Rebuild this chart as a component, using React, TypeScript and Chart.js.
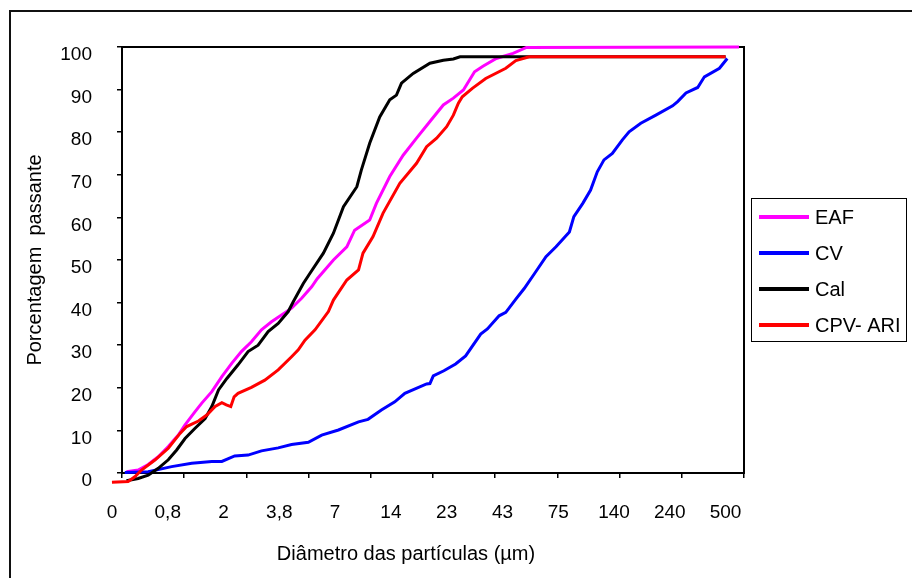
import React, { useEffect, useRef } from 'react';
import { Chart, registerables } from 'chart.js';

Chart.register(...registerables);

const FONT = '"Liberation Sans", Arial, Helvetica, sans-serif';

const xLabels = ['0', '0,8', '2', '3,8', '7', '14', '23', '43', '75', '140', '240', '500'];
const yTitle = 'Porcentagem  passante';
const xTitle = 'Diâmetro das partículas (µm)';
const seriesNames = ['EAF', 'CV', 'Cal', 'CPV- ARI'];
const seriesColors = ['#FF00FF', '#0000FF', '#000000', '#FF0000'];

// x values are positions along the category label index (0 = "0", 11 = "500")
const eafX = [0.26, 0.47, 0.65, 0.83, 1.01, 1.19, 1.31, 1.49, 1.61, 1.79, 1.97, 2.15, 2.32, 2.5, 2.68, 2.86, 3.04, 3.22, 3.4, 3.58, 3.68, 3.97, 4.21, 4.35, 4.62, 4.74, 4.98, 5.22, 5.46, 5.7, 5.94, 6.12, 6.3, 6.5, 6.65, 6.89, 7.19, 7.43, 11.24];
const eafY = [0.3, 0.7, 2.0, 3.8, 6.2, 8.9, 11.3, 14.4, 16.4, 19.1, 22.6, 25.8, 28.5, 30.8, 33.6, 35.5, 37.1, 38.7, 41.0, 43.7, 45.6, 50.0, 53.1, 57.0, 59.4, 63.3, 69.6, 74.6, 78.6, 82.5, 86.4, 88.0, 89.9, 94.2, 95.5, 97.3, 98.5, 99.9, 100];

const cvX = [0.23, 0.65, 1.07, 1.43, 1.79, 1.97, 2.2, 2.44, 2.68, 2.98, 3.22, 3.52, 3.76, 4.06, 4.42, 4.59, 4.83, 5.07, 5.25, 5.64, 5.7, 5.76, 5.95, 6.16, 6.34, 6.61, 6.73, 6.94, 7.06, 7.24, 7.39, 7.6, 7.78, 7.96, 8.2, 8.28, 8.44, 8.58, 8.7, 8.82, 8.97, 9.15, 9.27, 9.48, 9.75, 10.05, 10.14, 10.29, 10.5, 10.62, 10.89, 11.03];
const cvY = [0.1, 0.3, 1.5, 2.3, 2.7, 2.7, 4.0, 4.2, 5.2, 5.9, 6.7, 7.2, 8.9, 10.1, 12.0, 12.6, 14.8, 16.7, 18.7, 20.9, 21.0, 22.8, 24.0, 25.6, 27.5, 32.6, 33.8, 36.9, 37.7, 40.8, 43.3, 47.3, 50.8, 53.1, 56.6, 60.2, 63.3, 66.4, 70.7, 73.5, 75.0, 78.2, 80.1, 82.1, 84.0, 86.2, 87.2, 89.2, 90.5, 93.0, 95.0, 97.3];

const calX = [0.26, 0.47, 0.65, 0.83, 1.01, 1.16, 1.31, 1.49, 1.67, 1.79, 1.91, 2.06, 2.26, 2.44, 2.62, 2.8, 2.98, 3.16, 3.25, 3.43, 3.55, 3.79, 3.97, 4.15, 4.39, 4.47, 4.62, 4.8, 4.98, 5.1, 5.19, 5.4, 5.7, 5.94, 6.12, 6.24, 11.0];
const calY = [-1.8, -1.3, -0.5, 1.1, 3.1, 5.4, 8.1, 10.5, 12.8, 15.6, 19.5, 22.2, 25.4, 28.5, 30.0, 33.2, 35.1, 37.9, 40.2, 44.5, 46.9, 51.6, 56.3, 62.5, 67.2, 71.1, 77.4, 83.6, 87.6, 88.7, 91.5, 93.8, 96.2, 96.9, 97.2, 97.7, 97.7];

const cpvX = [0, 0.29, 0.41, 0.53, 0.77, 1.01, 1.22, 1.34, 1.55, 1.7, 1.85, 1.97, 2.05, 2.13, 2.19, 2.26, 2.5, 2.74, 2.98, 3.22, 3.34, 3.46, 3.64, 3.88, 3.97, 4.21, 4.42, 4.5, 4.68, 4.86, 5.16, 5.46, 5.64, 5.82, 6.0, 6.12, 6.21, 6.28, 6.46, 6.7, 7.06, 7.24, 7.48, 11.0];
const cpvY = [-2.2, -2.0, -0.9, 0.7, 3.05, 5.8, 9.3, 10.9, 12.2, 13.6, 15.6, 16.5, 16.0, 15.6, 17.9, 18.7, 20.1, 21.8, 24.2, 27.3, 28.9, 31.2, 33.6, 37.9, 40.6, 45.3, 47.7, 51.6, 55.5, 61.0, 68.0, 72.7, 76.6, 78.6, 81.3, 84.0, 86.8, 88.3, 90.3, 92.6, 95.0, 96.8, 97.7, 97.7];

const seriesX = [eafX, cvX, calX, cpvX];
const seriesY = [eafY, cvY, calY, cpvY];

const framePlugin = {
  id: 'frameDecor',
  beforeDatasetsDraw(chart: any) {
    const { ctx, chartArea: a } = chart;
    ctx.save();
    ctx.strokeStyle = '#000';
    ctx.lineWidth = 2;
    ctx.beginPath();
    ctx.moveTo(a.left, a.top);
    ctx.lineTo(a.right, a.top);
    ctx.lineTo(a.right, a.bottom);
    ctx.stroke();
    ctx.restore();
  },
  afterDraw(chart: any) {
    const { ctx, chartArea: a } = chart;
    ctx.save();
    // outer frame (left and top edges)
    ctx.fillStyle = '#111';
    ctx.fillRect(9, 10, 2, chart.height - 10);
    ctx.fillRect(9, 10, chart.width - 9, 2);
    // x axis title
    ctx.fillStyle = '#000';
    ctx.font = '20px ' + FONT;
    ctx.textAlign = 'center';
    ctx.textBaseline = 'middle';
    ctx.fillText(xTitle, a.left + (a.right - a.left) * 0.4566, 554);
    // legend
    const lx = a.right + 7;
    const ly = 198;
    ctx.strokeStyle = '#000';
    ctx.lineWidth = 1;
    ctx.strokeRect(lx + 0.5, ly + 0.5, 155, 143);
    ctx.textAlign = 'left';
    seriesNames.forEach((name, i) => {
      const y = ly + 19 + i * 36;
      ctx.strokeStyle = seriesColors[i];
      ctx.lineWidth = 4;
      ctx.beginPath();
      ctx.moveTo(lx + 8, y);
      ctx.lineTo(lx + 58, y);
      ctx.stroke();
      ctx.fillStyle = '#000';
      ctx.fillText(name, lx + 64, y + 1);
    });
    ctx.restore();
  },
};

export default function App() {
  const ref = useRef<HTMLCanvasElement>(null);
  useEffect(() => {
    if (!ref.current) return;
    const chart = new Chart(ref.current, {
      type: 'line',
      data: {
        datasets: seriesNames.map((name, i) => ({
          label: name,
          data: seriesX[i].map((x, j) => ({ x, y: seriesY[i][j] })),
          borderColor: seriesColors[i],
          backgroundColor: seriesColors[i],
          borderWidth: 3,
          pointRadius: 0,
          tension: 0,
          clip: false as any,
          order: 4 - i,
          xAxisID: 'x',
          yAxisID: 'y',
        })),
      },
      options: {
        responsive: false,
        animation: false,
        layout: { padding: { top: 47, right: 168, bottom: 0, left: 0 } },
        plugins: { legend: { display: false }, tooltip: { enabled: false } },
        scales: {
          xt: {
            type: 'linear',
            position: 'bottom',
            weight: 0,
            min: 0,
            max: 10,
            ticks: { display: false, stepSize: 1 },
            grid: { drawOnChartArea: false, drawTicks: true, tickLength: 5, color: '#000', lineWidth: 1.5 },
            border: { display: false },
            afterFit: (s: any) => { s.height = 0; },
          },
          x: {
            type: 'linear',
            position: 'bottom',
            weight: 1,
            min: 0.18,
            max: 11.33,
            afterBuildTicks: (s: any) => { s.ticks = xLabels.map((_, i) => ({ value: i })); },
            ticks: {
              autoSkip: false,
              maxRotation: 0,
              minRotation: 0,
              padding: 28,
              color: '#000',
              font: { family: FONT, size: 19 },
              callback: (_v: any, i: number) => xLabels[i],
            },
            grid: { display: false, drawTicks: false, tickLength: 0 },
            border: { display: true, color: '#000', width: 2 },
            afterFit: (s: any) => { s.height = 105; },
          },
          y: {
            type: 'linear',
            position: 'left',
            min: 0,
            max: 100,
            ticks: {
              stepSize: 10,
              labelOffset: 8,
              padding: 25,
              color: '#000',
              font: { family: FONT, size: 19 },
            },
            grid: { drawOnChartArea: false, drawTicks: true, tickLength: 5, color: '#000', lineWidth: 1.5 },
            border: { display: true, color: '#000', width: 2 },
            title: {
              display: true,
              text: yTitle,
              color: '#000',
              font: { family: FONT, size: 20 },
              padding: { top: 23.6, bottom: 0 },
            },
            afterFit: (s: any) => { s.width = 122; },
          },
        },
      },
      plugins: [framePlugin],
    } as any);
    return () => chart.destroy();
  }, []);
  return (
    <div style={{ position: 'fixed', left: 0, top: 0, width: 912, height: 578, background: '#fff' }}>
      <canvas ref={ref} width={912} height={578} style={{ display: 'block' }} />
    </div>
  );
}
